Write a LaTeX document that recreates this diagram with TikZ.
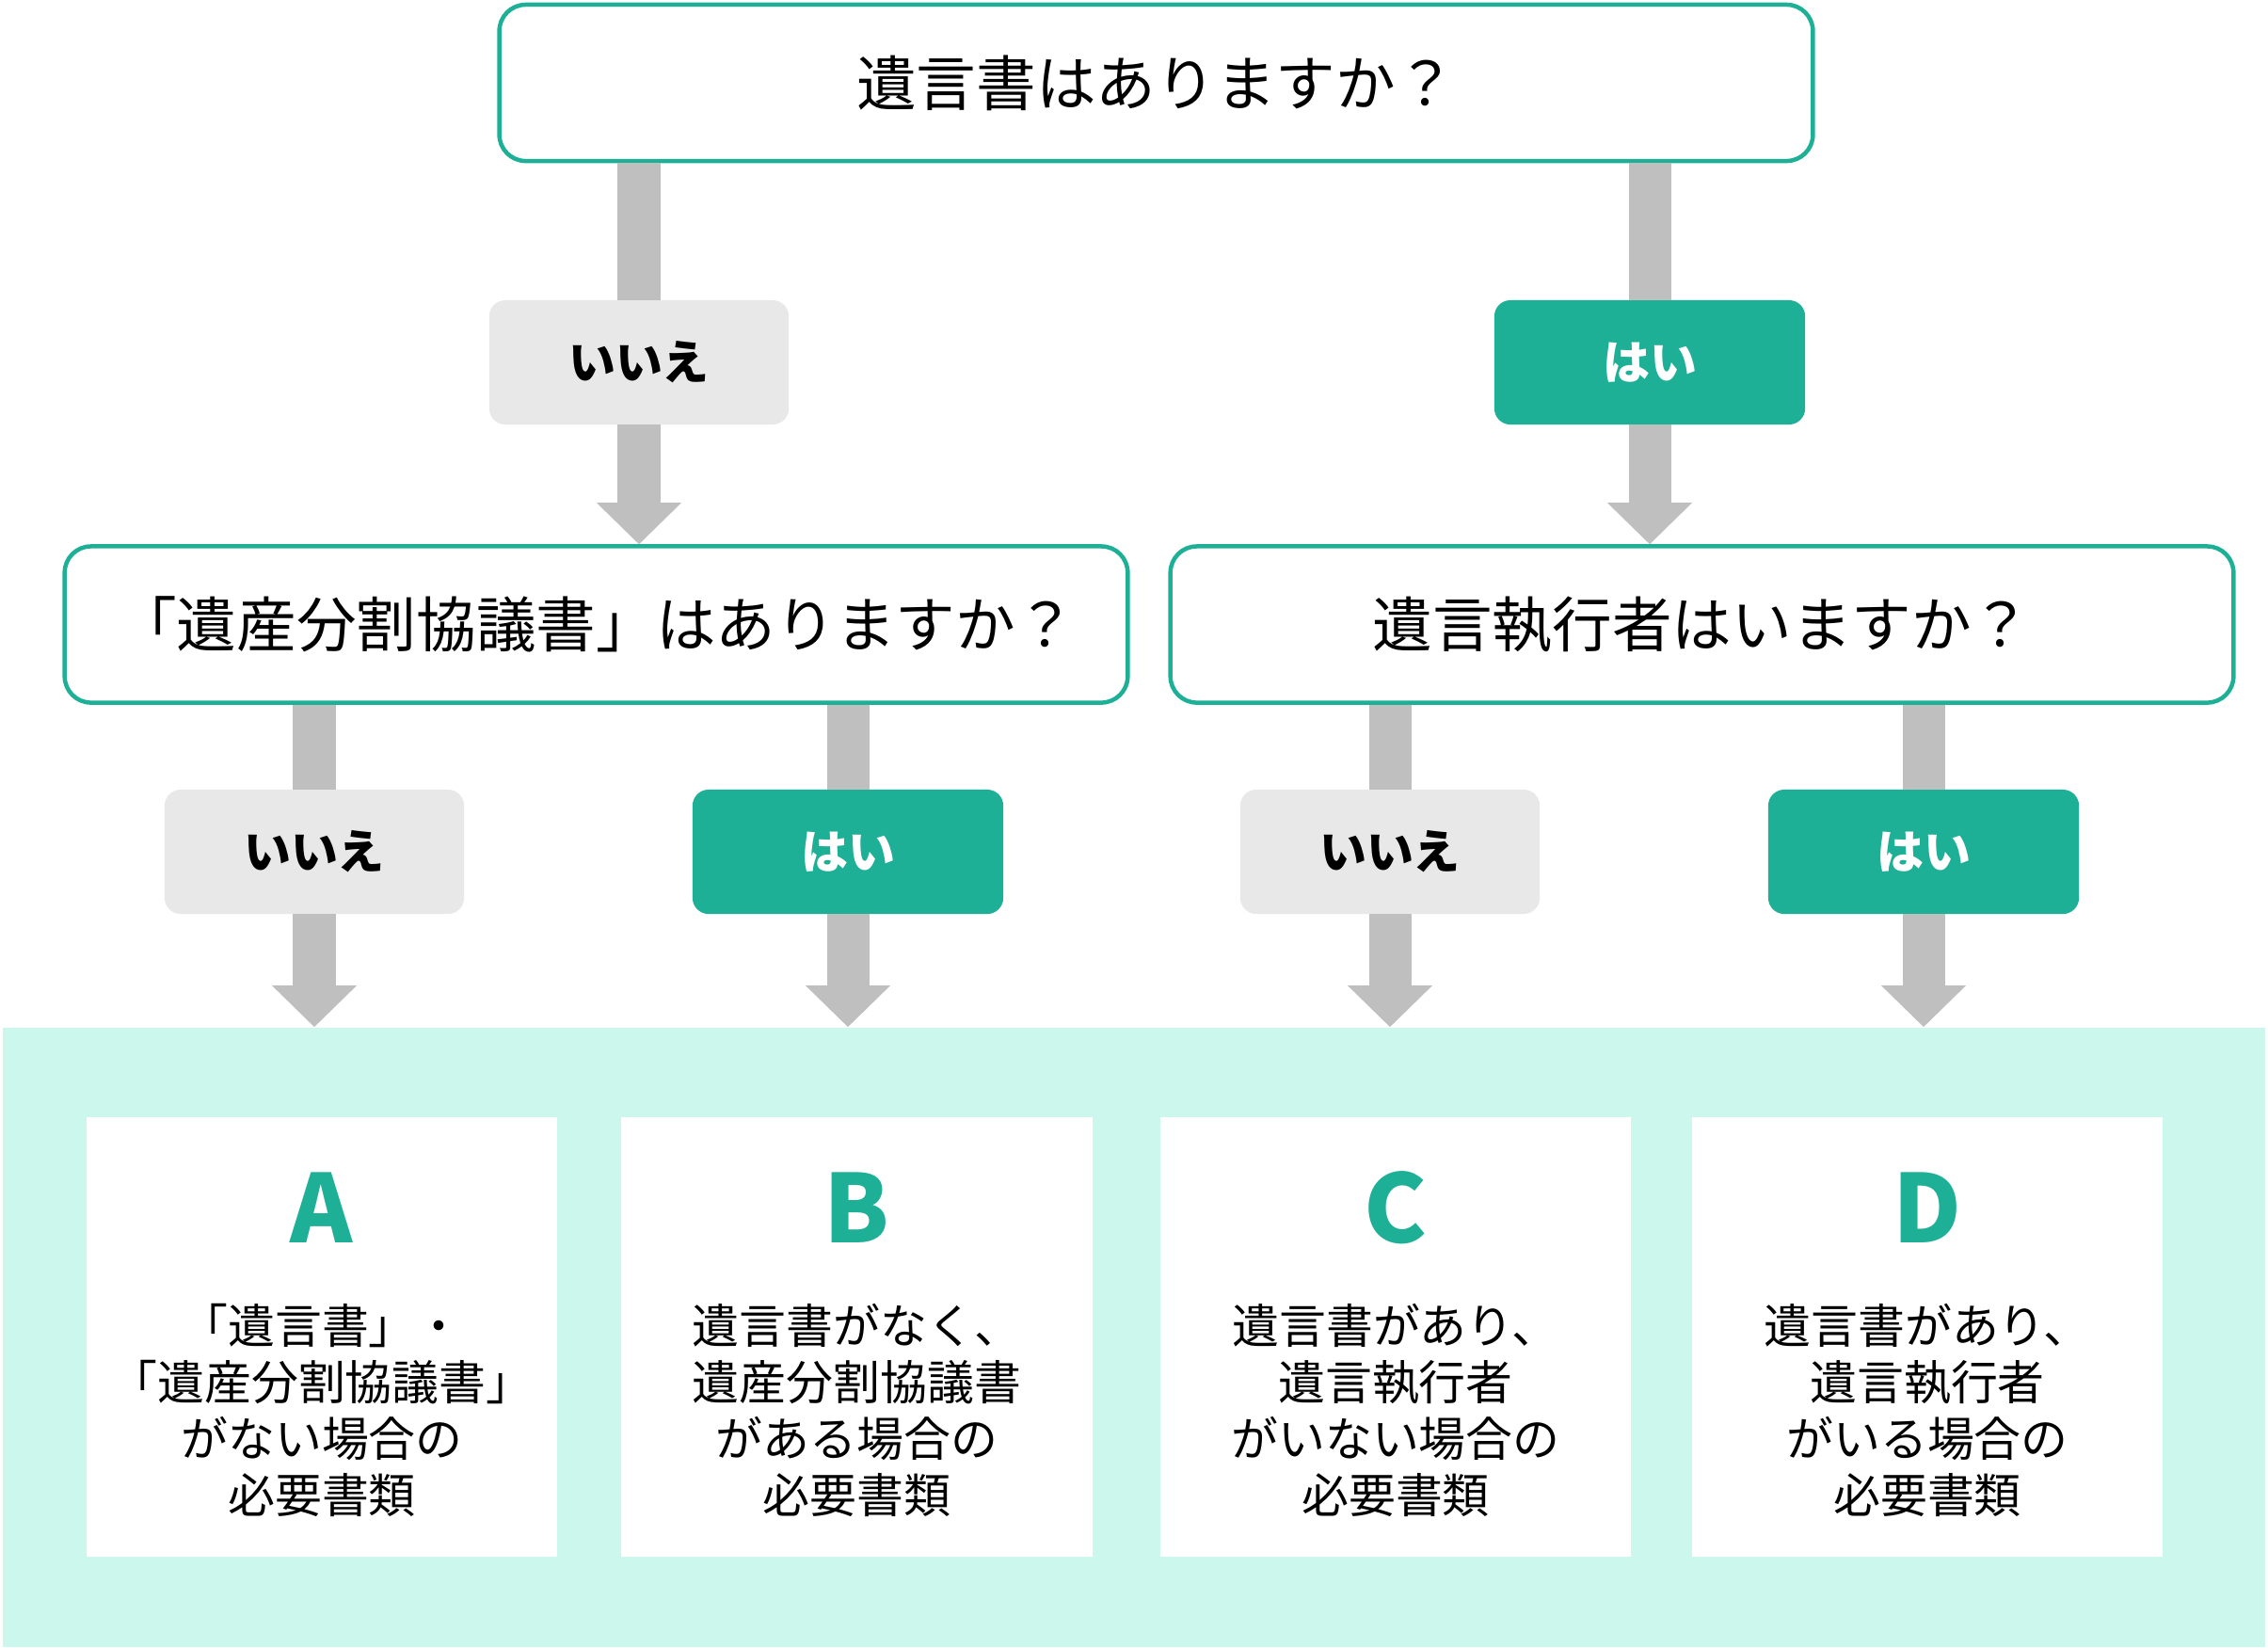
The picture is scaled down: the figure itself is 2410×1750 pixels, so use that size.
\documentclass[tikz,border=0pt]{standalone}
\usepackage{fontspec}
\setmainfont{Noto Sans CJK JP}
\usetikzlibrary{arrows.meta,positioning}
\definecolor{flowteal}{HTML}{1EB096}
\definecolor{mintbg}{HTML}{CBF7EC}
\definecolor{arrowgray}{HTML}{BFBFBF}
\definecolor{nogray}{HTML}{E8E8E8}

\begin{document}
\begin{tikzpicture}[x=0.01cm,y=-0.01cm,
  question/.style={draw=flowteal,line width=0.045cm,rounded corners=0.28cm,fill=white,
    minimum height=1.66cm,inner sep=0pt,font=\fontsize{18.1pt}{21pt}\selectfont},
  nolabel/.style={fill=nogray,rounded corners=0.17cm,minimum width=3.18cm,minimum height=1.32cm,
    outer sep=0pt,font=\bfseries\fontsize{14.2pt}{17pt}\selectfont},
  yeslabel/.style={nolabel,fill=flowteal,text=white,minimum width=3.3cm},
  grayshaft/.style={draw=arrowgray,line width=0.45cm},
  bigarrow/.style={grayshaft,-{Triangle[width=0.9cm,length=0.44cm,line width=0pt]}},
  card/.style={fill=white,minimum width=5cm,minimum height=4.67cm,inner sep=0pt},
  cardletter/.style={text=flowteal,font=\bfseries\fontsize{28.5pt}{30pt}\selectfont,inner sep=0pt},
  cardtext/.style={align=center,font=\fontsize{14.2pt}{17.07pt}\selectfont,inner sep=0pt}]
  \useasboundingbox (0,0) rectangle (2410,1750);

  % result area
  \node[fill=mintbg,minimum width=24.02cm,minimum height=6.58cm,inner sep=0pt] (area) at (1205,1421) {};
  \node[card] (cardA) at (342,1420.5) {};
  \node[card] (cardB) at (910.5,1420.5) {};
  \node[card] (cardC) at (1483,1420.5) {};
  \node[card] (cardD) at (2048,1420.5) {};
  \node[cardletter] (letA) at ([yshift=1.375cm]cardA.center) {A};
  \node[cardletter] (letB) at ([yshift=1.375cm]cardB.center) {B};
  \node[cardletter] (letC) at ([yshift=1.375cm]cardC.center) {C};
  \node[cardletter] (letD) at ([yshift=1.375cm]cardD.center) {D};
  \node[cardtext] (txtA) at ([yshift=-0.775cm]cardA.center) {「遺言書」・\\「遺産分割協議書」\\がない場合の\\必要書類};
  \node[cardtext] (txtB) at ([yshift=-0.775cm]cardB.center) {遺言書がなく、\\遺産分割協議書\\がある場合の\\必要書類};
  \node[cardtext] (txtC) at ([yshift=-0.775cm]cardC.center) {遺言書があり、\\遺言執行者\\がいない場合の\\必要書類};
  \node[cardtext] (txtD) at ([yshift=-0.775cm]cardD.center) {遺言書があり、\\遺言執行者\\がいる場合の\\必要書類};

  % questions
  \node[question,minimum width=13.95cm] (wq) at (1228.5,88) {遺言書はありますか？};
  \node[question,minimum width=11.29cm] (dq) at (633.5,663.5) {「遺産分割協議書」はありますか？};
  \node[question,minimum width=11.29cm] (eq) at (1808.5,663.5) {遺言執行者はいますか？};

  % answers
  \node[nolabel] (wno) at (679,385) {いいえ};
  \node[yeslabel] (wyes) at (1753,385) {はい};
  \node[nolabel] (dno) at (334,905) {いいえ};
  \node[yeslabel] (dyes) at (901,905) {はい};
  \node[nolabel] (eno) at (1477,905) {いいえ};
  \node[yeslabel] (eyes) at (2044,905) {はい};

  \draw[grayshaft] (wq.south -| wno) -- (wno.north);
  \draw[bigarrow] (wno.south) -- (dq.north -| wno);
  \draw[grayshaft] (wq.south -| wyes) -- (wyes.north);
  \draw[bigarrow] (wyes.south) -- (eq.north -| wyes);
  \draw[grayshaft] (dq.south -| dno) -- (dno.north);
  \draw[bigarrow] (dno.south) -- (area.north -| dno);
  \draw[grayshaft] (dq.south -| dyes) -- (dyes.north);
  \draw[bigarrow] (dyes.south) -- (area.north -| dyes);
  \draw[grayshaft] (eq.south -| eno) -- (eno.north);
  \draw[bigarrow] (eno.south) -- (area.north -| eno);
  \draw[grayshaft] (eq.south -| eyes) -- (eyes.north);
  \draw[bigarrow] (eyes.south) -- (area.north -| eyes);
\end{tikzpicture}
\end{document}
